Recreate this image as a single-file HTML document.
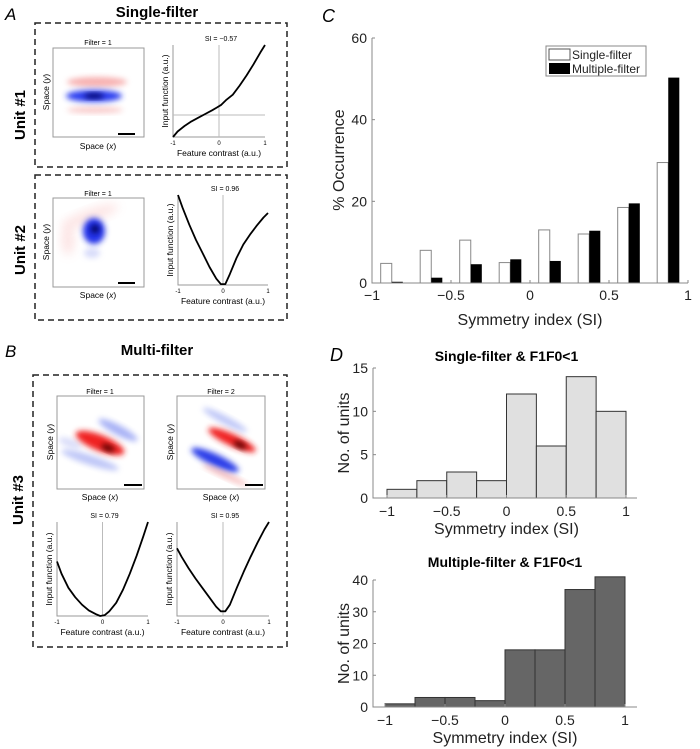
<!DOCTYPE html>
<html><head><meta charset="utf-8"><style>
html,body{margin:0;padding:0;background:#fff;}
svg{display:block;font-family:"Liberation Sans",Arial,sans-serif;}
</style></head><body>
<svg id="fig" width="700" height="749" viewBox="0 0 700 749" xmlns="http://www.w3.org/2000/svg">
<defs>
<filter id="b2" x="-50%" y="-50%" width="200%" height="200%"><feGaussianBlur stdDeviation="3"/></filter>
<filter id="b4" x="-50%" y="-50%" width="200%" height="200%"><feGaussianBlur stdDeviation="5"/></filter>
<clipPath id="c1"><rect x="53" y="48" width="91" height="89"/></clipPath>
<clipPath id="c2"><rect x="53" y="198" width="91" height="89"/></clipPath>
<clipPath id="c3"><rect x="57" y="396" width="87" height="93"/></clipPath>
<clipPath id="c4"><rect x="177" y="396" width="88" height="93"/></clipPath>
</defs>

<text x="5" y="20" font-size="17" font-style="italic">A</text>
<text x="157" y="17" font-size="15" font-weight="bold" text-anchor="middle">Single-filter</text>
<rect x="35" y="23" width="252" height="144" fill="none" stroke="#222" stroke-width="1.5" stroke-dasharray="6,4"/>
<rect x="35" y="175" width="252" height="145" fill="none" stroke="#222" stroke-width="1.5" stroke-dasharray="6,4"/>
<text transform="translate(25,115) rotate(-90)" font-size="15" font-weight="bold" text-anchor="middle">Unit #1</text>
<text transform="translate(25,250) rotate(-90)" font-size="15" font-weight="bold" text-anchor="middle">Unit #2</text>

<g clip-path="url(#c1)">
<rect x="53" y="48" width="91" height="89" fill="#fff"/>
<ellipse cx="97" cy="82" rx="30" ry="5" fill="#f07070" opacity="0.55" filter="url(#b2)"/>
<ellipse cx="95" cy="110" rx="28" ry="3" fill="#f08080" opacity="0.45" filter="url(#b2)"/>
<ellipse cx="94" cy="96" rx="28" ry="6" fill="#2a3cf0" filter="url(#b2)"/>
<ellipse cx="94" cy="96" rx="10" ry="2.5" fill="#000060" filter="url(#b2)"/>
</g>
<rect x="53" y="48" width="91" height="89" fill="none" stroke="#999" stroke-width="1"/>
<line x1="118" y1="134" x2="135" y2="134" stroke="#000" stroke-width="2"/>
<text x="98" y="45" font-size="7" text-anchor="middle">Filter = 1</text>
<text x="98" y="149" font-size="8.5" text-anchor="middle">Space (<tspan font-style="italic">x</tspan>)</text>
<text transform="translate(49,92) rotate(-90)" font-size="8.5" text-anchor="middle">Space (<tspan font-style="italic">y</tspan>)</text>

<g clip-path="url(#c2)">
<rect x="53" y="198" width="91" height="89" fill="#fff"/>
<ellipse cx="90" cy="216" rx="30" ry="6" fill="#f5a0a0" opacity="0.3" filter="url(#b4)" transform="rotate(-20 90 216)"/>
<ellipse cx="68" cy="240" rx="6" ry="15" fill="#f5a0a0" opacity="0.3" filter="url(#b4)"/>
<ellipse cx="92" cy="253" rx="8" ry="5" fill="#b0b8f5" opacity="0.5" filter="url(#b2)"/>
<ellipse cx="94" cy="231" rx="11" ry="13" fill="#2030e8" filter="url(#b2)"/>
<ellipse cx="95" cy="229" rx="4" ry="4" fill="#000050" filter="url(#b2)"/>
</g>
<rect x="53" y="198" width="91" height="89" fill="none" stroke="#999" stroke-width="1"/>
<line x1="118" y1="283" x2="135" y2="283" stroke="#000" stroke-width="2"/>
<text x="98" y="196" font-size="7" text-anchor="middle">Filter = 1</text>
<text x="98" y="298" font-size="8.5" text-anchor="middle">Space (<tspan font-style="italic">x</tspan>)</text>
<text transform="translate(49,242) rotate(-90)" font-size="8.5" text-anchor="middle">Space (<tspan font-style="italic">y</tspan>)</text>

<text x="5" y="357" font-size="17" font-style="italic">B</text>
<text x="157" y="355" font-size="15" font-weight="bold" text-anchor="middle">Multi-filter</text>
<rect x="33" y="375" width="254" height="272" fill="none" stroke="#222" stroke-width="1.5" stroke-dasharray="6,4"/>
<text transform="translate(23,500) rotate(-90)" font-size="15" font-weight="bold" text-anchor="middle">Unit #3</text>

<g clip-path="url(#c3)">
<rect x="57" y="396" width="87" height="93" fill="#fff"/>
<ellipse cx="118" cy="430" rx="22" ry="5" fill="#7080f0" opacity="0.6" filter="url(#b2)" transform="rotate(28 118 430)"/>
<ellipse cx="90" cy="460" rx="30" ry="5" fill="#8090f0" opacity="0.5" filter="url(#b2)" transform="rotate(18 90 460)"/>
<ellipse cx="70" cy="443" rx="12" ry="4" fill="#a0a8f0" opacity="0.4" filter="url(#b2)" transform="rotate(20 70 443)"/>
<ellipse cx="100" cy="443" rx="26" ry="8" fill="#f02020" filter="url(#b2)" transform="rotate(22 100 443)"/>
<ellipse cx="108" cy="448" rx="7" ry="3" fill="#500000" filter="url(#b2)" transform="rotate(22 108 448)"/>
</g>
<rect x="57" y="396" width="87" height="93" fill="none" stroke="#999"/>
<line x1="124" y1="485" x2="142" y2="485" stroke="#000" stroke-width="2"/>

<g clip-path="url(#c4)">
<rect x="177" y="396" width="88" height="93" fill="#fff"/>
<ellipse cx="225" cy="420" rx="25" ry="4" fill="#8090f0" opacity="0.5" filter="url(#b2)" transform="rotate(28 225 420)"/>
<ellipse cx="215" cy="460" rx="26" ry="6" fill="#2a3ce8" filter="url(#b2)" transform="rotate(25 215 460)"/>
<ellipse cx="225" cy="475" rx="25" ry="3" fill="#f08080" opacity="0.5" filter="url(#b2)" transform="rotate(25 225 475)"/>
<ellipse cx="232" cy="440" rx="26" ry="6" fill="#f02020" filter="url(#b2)" transform="rotate(25 232 440)"/>
<ellipse cx="240" cy="445" rx="7" ry="3" fill="#500000" filter="url(#b2)" transform="rotate(25 240 445)"/>
</g>
<rect x="177" y="396" width="88" height="93" fill="none" stroke="#999"/>
<line x1="245" y1="485" x2="263" y2="485" stroke="#000" stroke-width="2"/>
<text x="100" y="394" font-size="7" text-anchor="middle">Filter = 1</text>
<text x="221" y="394" font-size="7" text-anchor="middle">Filter = 2</text>
<text x="100" y="500" font-size="8.5" text-anchor="middle">Space (<tspan font-style="italic">x</tspan>)</text>
<text x="221" y="500" font-size="8.5" text-anchor="middle">Space (<tspan font-style="italic">x</tspan>)</text>
<text transform="translate(53,442) rotate(-90)" font-size="8.5" text-anchor="middle">Space (<tspan font-style="italic">y</tspan>)</text>
<text transform="translate(173,442) rotate(-90)" font-size="8.5" text-anchor="middle">Space (<tspan font-style="italic">y</tspan>)</text>

<g id="curves"></g>
<g id="chartC"></g>
<g id="chartD1"></g>
<g id="chartD2"></g>
</svg>
<script>
const curveX = [-1,-0.9,-0.75,-0.6,-0.45,-0.3,-0.15,-0.05,0.05,0.15,0.3,0.45,0.6,0.75,0.9,1];
const unit1Y = [0,0.06,0.12,0.17,0.21,0.25,0.29,0.32,0.35,0.4,0.46,0.56,0.67,0.79,0.92,1];
const unit2Y = [1,0.86,0.67,0.5,0.35,0.2,0.07,0.01,0.01,0.12,0.3,0.45,0.56,0.66,0.75,0.8];
const unit3aY = [0.58,0.45,0.3,0.2,0.12,0.06,0.02,0.0,0.01,0.05,0.14,0.28,0.45,0.64,0.85,1];
const unit3bY = [0.72,0.63,0.51,0.4,0.3,0.2,0.1,0.05,0.05,0.12,0.3,0.47,0.63,0.78,0.92,1];
const siLabels = ["SI = −0.57","SI = 0.96","SI = 0.79","SI = 0.95"];

const cCats = [-0.875,-0.625,-0.375,-0.125,0.125,0.375,0.625,0.875];
const cSingle = [4.8,8,10.5,5,13,12,18.5,29.5];
const cMulti = [0.3,1.3,4.6,5.8,5.4,12.8,19.5,50.3];
const cXTicks = [-1,-0.5,0,0.5,1];
const cXTickLabels = ["−1","−0.5","0","0.5","1"];
const cYTicks = [0,20,40,60];

const dEdges = [-1,-0.75,-0.5,-0.25,0,0.25,0.5,0.75,1];
const dSingle = [1,2,3,2,12,6,14,10];
const dMulti = [1,3,3,2,18,18,37,41];
const dXTicks = [-1,-0.5,0,0.5,1];
const dXTickLabels = ["−1","−0.5","0","0.5","1"];
const dSingleYTicks = [0,5,10,15];
const dMultiYTicks = [0,10,20,30,40];

const NS="http://www.w3.org/2000/svg";
function mk(parent,tag,attrs,text){const e=document.createElementNS(NS,tag);for(const k in attrs)e.setAttribute(k,attrs[k]);if(text!==undefined)e.textContent=text;parent.appendChild(e);return e;}

const curvesG=document.getElementById('curves');
const curvePlots=[
 {ys:unit1Y,x0:173,x1:265,yTop:45,yBot:137,hLine:115,si:siLabels[0],name:'unit1'},
 {ys:unit2Y,x0:178,x1:268,yTop:195,yBot:285,hLine:null,si:siLabels[1],name:'unit2'},
 {ys:unit3aY,x0:57,x1:148,yTop:522,yBot:616,hLine:null,si:siLabels[2],name:'unit3-filter1'},
 {ys:unit3bY,x0:177,x1:269,yTop:522,yBot:616,hLine:null,si:siLabels[3],name:'unit3-filter2'}
];
curvePlots.forEach(p=>{
 const sx=v=>p.x0+(v+1)/2*(p.x1-p.x0);
 const sy=v=>p.yBot-v*(p.yBot-p.yTop);
 const g=mk(curvesG,'g',{});
 
 
 const ax=mk(g,'path',{d:`M${p.x0},${p.yTop} V${p.yBot} H${p.x1}`,fill:'none',stroke:'#999','stroke-width':1});
 
 
 const vl=mk(g,'line',{x1:sx(0),x2:sx(0),y1:p.yTop,y2:p.yBot,stroke:'#bbb','stroke-width':1});
 
 
 if(p.hLine){const hl=mk(g,'line',{x1:p.x0,x2:p.x1,y1:p.hLine,y2:p.hLine,stroke:'#bbb','stroke-width':1});
  
  }
 const d=curveX.map((x,i)=>(i?'L':'M')+sx(x).toFixed(1)+','+sy(p.ys[i]).toFixed(1)).join(' ');
 const c=mk(g,'path',{d:d,fill:'none',stroke:'#000','stroke-width':1.8,'stroke-linejoin':'round'});
 
 
 [[-1,'-1'],[0,'0'],[1,'1']].forEach(t=>{const tt=mk(g,'text',{x:sx(t[0]),y:p.yBot+8,'font-size':6,'text-anchor':'middle'},t[1]);
  
  });
 const xl=mk(g,'text',{x:(p.x0+p.x1)/2,y:p.yBot+19,'font-size':8.5,'text-anchor':'middle'},'Feature contrast (a.u.)');
 
 
 const yl=mk(g,'text',{transform:`translate(${p.x0-5},${(p.yTop+p.yBot)/2}) rotate(-90)`,'font-size':8.5,'text-anchor':'middle'},'Input function (a.u.)');
 
 
 const st=mk(g,'text',{x:sx(0)+2,y:p.yTop-4,'font-size':7,'text-anchor':'middle'},p.si);
 
 
});

(function(){
 const g=document.getElementById('chartC');
 const X0=372,X1=688,Y0=283,Y1=38;
 const sx=v=>X0+(v+1)/2*(X1-X0), sy=v=>Y0-v/60*(Y0-Y1);
 const lab=mk(g,'text',{x:322,y:22,'font-size':18,'font-style':'italic'},'C');
 
 
 const bw=(sx(0.25)-sx(0))*0.28;
 cCats.forEach((c,i)=>{
  const cx=sx(c);
  const r1=mk(g,'rect',{x:cx-bw,y:sy(cSingle[i]),width:bw,height:Y0-sy(cSingle[i]),fill:'#fff',stroke:'#888','stroke-width':1});
  
  
  const r2=mk(g,'rect',{x:cx,y:sy(cMulti[i]),width:bw,height:Y0-sy(cMulti[i]),fill:'#000'});
  
  
 });
 const ax=mk(g,'path',{d:`M${X0},${Y1} V${Y0} H${X1}`,fill:'none',stroke:'#888','stroke-width':1});
 
 
 cYTicks.forEach(t=>{
  mk(g,'line',{x1:X0,x2:X0+3,y1:sy(t),y2:sy(t),stroke:'#888'});
  const tt=mk(g,'text',{x:X0-5,y:sy(t)+5,'font-size':14,'text-anchor':'end',fill:'#222'},String(t));
  
  
 });
 cXTicks.forEach((t,i)=>{
  mk(g,'line',{x1:sx(t),x2:sx(t),y1:Y0,y2:Y0-3,stroke:'#888'});
  const tt=mk(g,'text',{x:sx(t),y:Y0+17,'font-size':14,'text-anchor':'middle',fill:'#222'},cXTickLabels[i]);
  
  
 });
 const xl=mk(g,'text',{x:(X0+X1)/2,y:325,'font-size':16,'text-anchor':'middle',fill:'#222'},'Symmetry index (SI)');
 
 
 const yl=mk(g,'text',{transform:`translate(344,160) rotate(-90)`,'font-size':16,'text-anchor':'middle',fill:'#222'},'% Occurrence');
 
 
 const lg=mk(g,'g',{});
 
 
 mk(lg,'rect',{x:546,y:46,width:100,height:30,fill:'#fff',stroke:'#888'});
 mk(lg,'rect',{x:549,y:49,width:21,height:11,fill:'#fff',stroke:'#555'});
 mk(lg,'rect',{x:549,y:63,width:21,height:11,fill:'#000'});
 const l1=mk(lg,'text',{x:572,y:59,'font-size':12,fill:'#222'},'Single-filter');
 
 
 const l2=mk(lg,'text',{x:572,y:73,'font-size':12,fill:'#222'},'Multiple-filter');
 
 
})();

function hist(id,vals,yTicks,ymax,X0,X1,AX0,AX1,Y0,Y1,fill,title,titleY,nm){
 const g=document.getElementById(id);
 const sx=v=>X0+(v+1)/2*(X1-X0), sy=v=>Y0-v/ymax*(Y0-Y1);
 const t=mk(g,'text',{x:(X0+X1)/2,y:titleY,'font-size':14,'font-weight':'bold','text-anchor':'middle'},title);
 
 
 vals.forEach((v,i)=>{
  const r=mk(g,'rect',{x:sx(dEdges[i]),y:sy(v),width:sx(dEdges[i+1])-sx(dEdges[i]),height:Y0-sy(v),fill:fill,stroke:'#333','stroke-width':1});
  
  
 });
 const ax=mk(g,'path',{d:`M${AX0},${Y1} V${Y0} H${AX1}`,fill:'none',stroke:'#888','stroke-width':1});
 
 
 yTicks.forEach(tk=>{
  mk(g,'line',{x1:AX0,x2:AX0+3,y1:sy(tk),y2:sy(tk),stroke:'#888'});
  const tt=mk(g,'text',{x:AX0-5,y:sy(tk)+5,'font-size':14,'text-anchor':'end',fill:'#222'},String(tk));
  
  
 });
 dXTicks.forEach((tk,i)=>{
  mk(g,'line',{x1:sx(tk),x2:sx(tk),y1:Y0,y2:Y0-3,stroke:'#888'});
  const tt=mk(g,'text',{x:sx(tk),y:Y0+18,'font-size':14,'text-anchor':'middle',fill:'#222'},dXTickLabels[i]);
  
  
 });
 const xl=mk(g,'text',{x:(X0+X1)/2,y:Y0+36,'font-size':16,'text-anchor':'middle',fill:'#222'},'Symmetry index (SI)');
 
 
 const yl=mk(g,'text',{transform:`translate(349,${(Y0+Y1)/2}) rotate(-90)`,'font-size':16,'text-anchor':'middle',fill:'#222'},'No. of units');
 
 
}
(function(){
 const g=document.getElementById('chartD1');
 const l=mk(g,'text',{x:330,y:361,'font-size':18,'font-style':'italic'},'D');
 
 
})();
hist('chartD1',dSingle,dSingleYTicks,15,387,626,373,637,498,368,'#e0e0e0','Single-filter & F1F0<1',361,'d-single');
hist('chartD2',dMulti,dMultiYTicks,40,385,625,373,637,707,580,'#666','Multiple-filter & F1F0<1',567,'d-multi');
</script>
</body></html>
